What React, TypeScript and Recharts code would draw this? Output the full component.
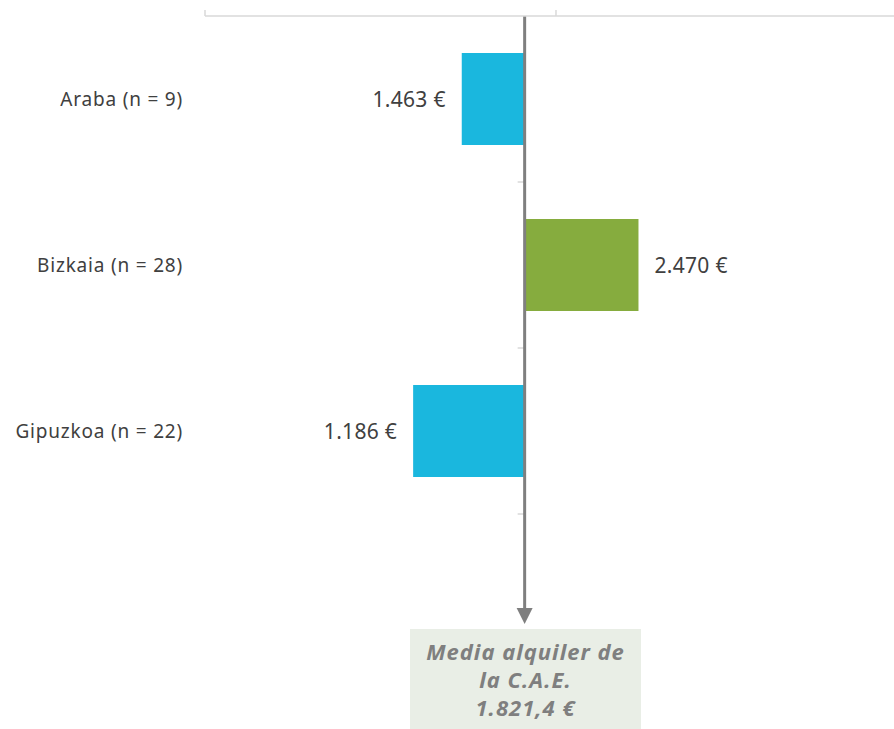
import React from 'react';
import { BarChart, Bar, XAxis, YAxis, Cell, LabelList, ReferenceLine } from 'recharts';

const provinces = ['Araba (n = 9)', 'Bizkaia (n = 28)', 'Gipuzkoa (n = 22)'];
const rents = [1463, 2470, 1186];
const caeMean = 1821.4;
const xTicks = [0, 2000];

const BELOW = '#1ab7de';
const ABOVE = '#86ac3e';
const FONT = '"Noto Sans", "Open Sans", sans-serif';

// 1463 -> "1.463", 1821.4 -> "1.821,4"
const fmt = (v: number, decimals = 0) => {
  const [int, dec] = v.toFixed(decimals).split('.');
  const grouped = int.replace(/\B(?=(\d{3})+(?!\d))/g, '.');
  return dec ? `${grouped},${dec}` : grouped;
};

const data = provinces.map((name, i) => ({
  name,
  value: rents[i],
  range: [Math.min(rents[i], caeMean), Math.max(rents[i], caeMean)],
}));

const ValueLabel = (props: any) => {
  const { x, y, width, height, index } = props;
  const v = rents[index];
  const below = v < caeMean;
  return (
    <text
      x={below ? x - 16 : x + width + 16}
      y={y + height / 2}
      textAnchor={below ? 'end' : 'start'}
      dominantBaseline="central"
      fontSize={21}
      letterSpacing={0.3}
      fontFamily={FONT}
      fill="#404040"
    >
      {fmt(v)} €
    </text>
  );
};

// axis line crossing at the mean, with category ticks and the arrow down to the box
const MeanAxis = (props: any) => {
  const { x1, y1, y2 } = props;
  const n = data.length;
  const step = (y2 - y1) / n;
  const end = y2 + 96;
  return (
    <g>
      {data.map((_, i) => (
        <line key={i} x1={x1 - 7} x2={x1} y1={y1 + step * (i + 1)} y2={y1 + step * (i + 1)} stroke="#d9d9d9" strokeWidth={1.5} />
      ))}
      <line x1={x1} x2={x1} y1={y1} y2={end} stroke="#7f7f7f" strokeWidth={3} />
      <path d={`M${x1 - 8},${end - 2} L${x1 + 8},${end - 2} L${x1},${end + 14} Z`} fill="#7f7f7f" />
    </g>
  );
};

export default function App() {
  return (
    <div style={{ position: 'absolute', left: 0, top: 0, width: 894, height: 729, background: '#fff' }}>
      <BarChart
        width={894}
        height={729}
        data={data}
        layout="vertical"
        margin={{ top: 10, right: 0, bottom: 215, left: 0 }}
        barSize={92}
      >
        <XAxis
          type="number"
          orientation="top"
          domain={[0, 3926]}
          allowDataOverflow
          ticks={xTicks}
          tickFormatter={() => ''}
          height={6}
          tickSize={6}
          stroke="#d9d9d9"
          axisLine={{ stroke: '#d9d9d9', strokeWidth: 1.5 }}
          tickLine={{ stroke: '#d9d9d9', strokeWidth: 1.5 }}
        />
        <YAxis
          type="category"
          dataKey="name"
          width={205}
          axisLine={false}
          tickLine={false}
          tickSize={0}
          tickMargin={22}
          tick={{ fontSize: 19, fontFamily: FONT, fill: '#404040', letterSpacing: 0.8 }}
        />
        <Bar dataKey="range" isAnimationActive={false}>
          {data.map((d, i) => (
            <Cell key={i} fill={d.value < caeMean ? BELOW : ABOVE} />
          ))}
          <LabelList dataKey="value" content={ValueLabel} />
        </Bar>
        <ReferenceLine x={caeMean} shape={MeanAxis} ifOverflow="visible" />
      </BarChart>
      <div
        style={{
          position: 'absolute',
          left: 410,
          top: 629,
          width: 231,
          height: 100,
          background: '#e9eee6',
          color: '#7f7f7f',
          fontFamily: FONT,
          fontStyle: 'italic',
          fontWeight: 700,
          fontSize: 22,
          letterSpacing: 1,
          lineHeight: '28px',
          textAlign: 'center',
          paddingTop: 8,
          boxSizing: 'border-box',
        }}
      >
        Media alquiler de
        <br />
        la C.A.E.
        <br />
        {fmt(caeMean, 1)} €
      </div>
    </div>
  );
}
